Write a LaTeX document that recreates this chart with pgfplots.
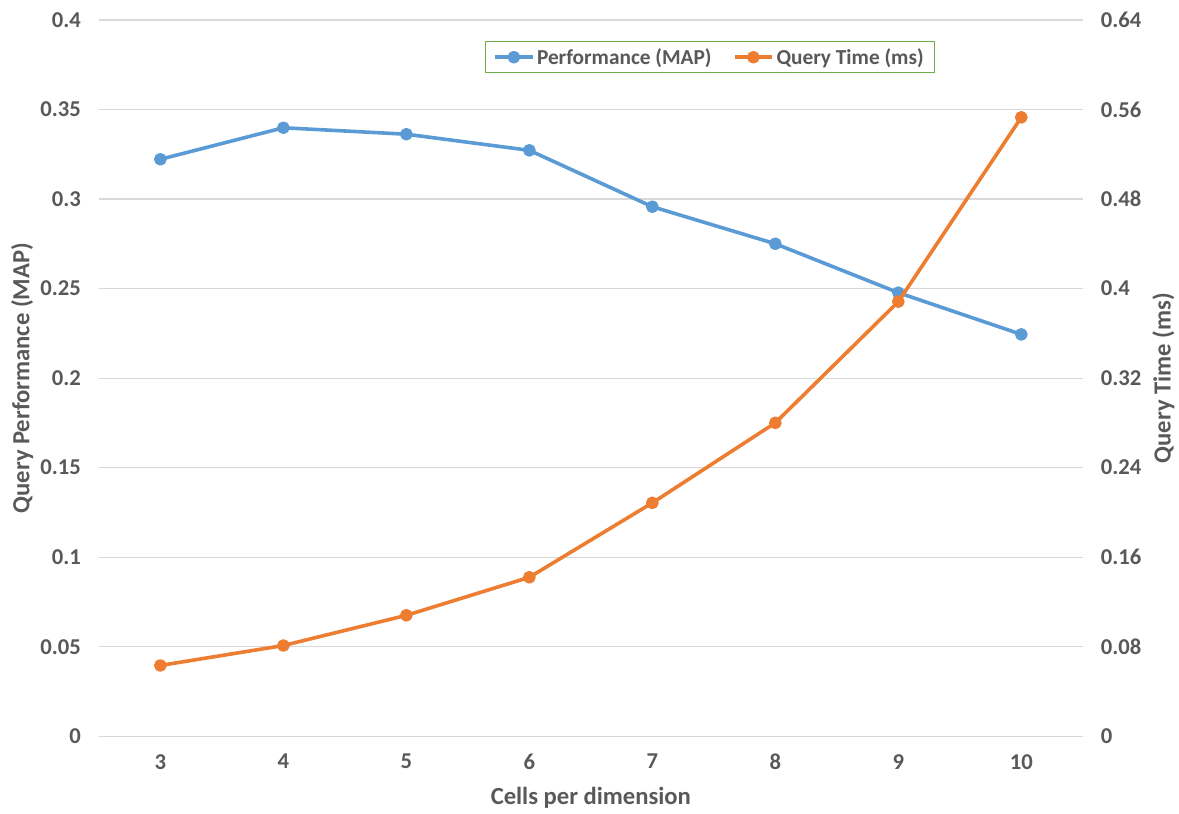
\documentclass[border=0pt]{standalone}
\usepackage{fontspec}
\setmainfont{Carlito}
\usepackage{pgfplots}
\pgfplotsset{compat=1.18}

\definecolor{mapblue}{HTML}{5B9BD5}
\definecolor{timeorange}{HTML}{ED7D31}
\definecolor{txtgray}{HTML}{595959}
\definecolor{gridgray}{HTML}{D9D9D9}
\definecolor{legendgreen}{HTML}{70AD47}

\newcommand{\tck}{\fontsize{17}{20}\selectfont\bfseries\color{txtgray}}
\newcommand{\lgd}{\fontsize{16}{19}\selectfont\bfseries\color{txtgray}}
\newcommand{\lbl}{\fontsize{18.5}{22}\selectfont\bfseries\color{txtgray}}

\pgfplotsset{
  common/.style={
    scale only axis,
    width=738.75pt, height=537.75pt,
    at={(0,0)}, anchor=south west,
    xmin=2.5, xmax=10.5,
    axis line style={draw=none},
    major tick style={draw=none},
    /pgf/number format/assume math mode=true,
    /pgf/number format/fixed,
    /pgf/number format/precision=2,
    ticklabel style={font=\tck},
    label style={font=\lbl},
  },
  excelline/.style={line width=2.7pt, mark=*, mark size=3.4pt, line join=round},
  legend image code/.code={
    \draw[#1, mark repeat=2, mark phase=2]
      plot coordinates {(0pt,0pt) (14pt,0pt) (28pt,0pt)};
  },
}

% Performance (MAP) per grid resolution
\pgfplotstableread{
cells map
3  0.3222
4  0.3398
5  0.3362
6  0.3272
7  0.2957
8  0.2750
9  0.2477
10 0.2244
}\maptable

% Query time (ms) per grid resolution
\pgfplotstableread{
cells time
3  0.0632
4  0.0810
5  0.1080
6  0.1420
7  0.2085
8  0.2800
9  0.3883
10 0.5530
}\timetable

\begin{document}
\begin{tikzpicture}
\begin{axis}[
  common,
  ymin=0, ymax=0.4,
  xtick={3,4,5,6,7,8,9,10},
  ytick={0,0.05,0.1,0.15,0.2,0.25,0.3,0.35,0.4},
  ymajorgrids,
  grid style={gridgray, line width=0.8pt},
  yticklabel style={xshift=-10pt},
  xticklabel style={yshift=-10pt},
  xlabel={Cells per dimension},
  ylabel={Query Performance (MAP)},
  xlabel style={at={(rel axis cs:0.5,-0.0865)}, anchor=center},
  ylabel style={at={(rel axis cs:-0.078,0.5)}, anchor=center, rotate=0},
]
\addplot[excelline, color=mapblue] table[x=cells, y=map] {\maptable};
\end{axis}
\begin{axis}[
  common,
  ymin=0, ymax=0.64,
  axis y line*=right,
  axis x line=none,
  ytick={0,0.08,0.16,0.24,0.32,0.4,0.48,0.56,0.64},
  yticklabel style={xshift=10pt},
  ylabel={Query Time (ms)},
  ylabel style={at={(rel axis cs:1.082,0.5)}, anchor=center, rotate=0},
  legend columns=2,
  legend style={
    at={(rel axis cs:0.621,0.948)}, anchor=center,
    draw=legendgreen, line width=0.8pt,
    font=\lgd,
    inner xsep=6pt, inner ysep=3pt,
    /tikz/every even column/.append style={column sep=14pt},
  },
]
\addlegendimage{excelline, color=mapblue}
\addlegendentry{Performance (MAP)}
\addplot[excelline, color=timeorange] table[x=cells, y=time] {\timetable};
\addlegendentry{Query Time (ms)}
\end{axis}
\path[use as bounding box] (-74.25pt,-55.5pt) rectangle (810pt,552.75pt);
\end{tikzpicture}
\end{document}
